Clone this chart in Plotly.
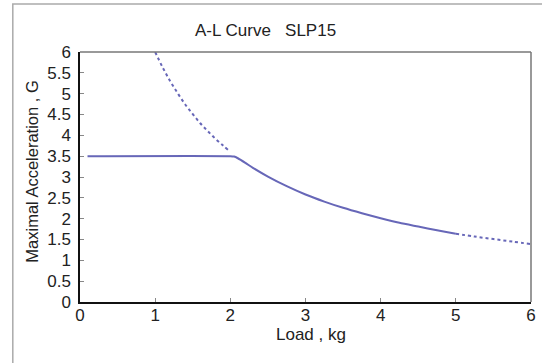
import plotly.graph_objects as go

# Data
flat_load = [0.1, 2.0, 2.05]
flat_acc = [3.5, 3.5, 3.49]

solid_load = [2.05, 2.1, 2.2, 2.3, 2.5, 2.75, 3.0, 3.25, 3.5, 3.75, 4.0, 4.25, 4.5, 4.75, 5.0]
solid_acc = [3.49, 3.45, 3.34, 3.22, 3.01, 2.78, 2.58, 2.41, 2.26, 2.13, 2.01, 1.90, 1.81, 1.72, 1.64]

dash1_load = [1.0, 1.1, 1.2, 1.3, 1.4, 1.5, 1.6, 1.7, 1.8, 1.9, 1.97]
dash1_acc = [6.0, 5.63, 5.30, 5.01, 4.74, 4.51, 4.29, 4.10, 3.92, 3.76, 3.65]

dash2_load = [5.0, 5.25, 5.5, 5.75, 6.0]
dash2_acc = [1.64, 1.57, 1.51, 1.45, 1.39]

x_ticks = [0, 1, 2, 3, 4, 5, 6]
y_ticks = [0, 0.5, 1, 1.5, 2, 2.5, 3, 3.5, 4, 4.5, 5, 5.5, 6]
y_tick_text = ["0", "0.5", "1", "1.5", "2", "2.5", "3", "3.5", "4", "4.5", "5", "5.5", "6"]

LINE = "#6767b8"
FONT = "Liberation Sans, Arial, sans-serif"

fig = go.Figure()
fig.add_trace(go.Scatter(x=flat_load + solid_load[1:], y=flat_acc + solid_acc[1:], mode="lines",
                         line=dict(color=LINE, width=2, shape="spline", smoothing=0.6), showlegend=False))
fig.add_trace(go.Scatter(x=dash1_load, y=dash1_acc, mode="lines",
                         line=dict(color=LINE, width=2, dash="dot", shape="spline"), showlegend=False))
fig.add_trace(go.Scatter(x=dash2_load, y=dash2_acc, mode="lines",
                         line=dict(color=LINE, width=2, dash="dot", shape="spline"), showlegend=False))

fig.update_layout(
    width=542, height=363,
    margin=dict(l=80, r=6, t=52, b=61),
    paper_bgcolor="white", plot_bgcolor="white",
    font=dict(family=FONT, size=17, color="#222"),
    xaxis=dict(range=[0, 6], tickvals=x_ticks, ticks="inside", ticklen=4, tickcolor="#888",
               showline=True, linecolor="#111", linewidth=1.5, showgrid=False, zeroline=False,
               tickfont=dict(size=17), ticklabelstandoff=-3),
    yaxis=dict(range=[0, 6], tickvals=y_ticks, ticktext=y_tick_text, ticks="inside", ticklen=4,
               tickcolor="#888", showline=True, linecolor="#111", linewidth=1.5, showgrid=False,
               zeroline=False, tickfont=dict(size=17), ticklabelstandoff=4),
    shapes=[
        dict(type="line", xref="paper", yref="paper", x0=0, x1=1, y0=1, y1=1,
             line=dict(color="#777", width=1.5)),
        dict(type="line", xref="paper", yref="paper", x0=1, x1=1, y0=0, y1=1,
             line=dict(color="#777", width=1.5)),
        dict(type="rect", xref="paper", yref="paper", x0=-0.149, x1=1.2, y0=-0.5, y1=1.192,
             line=dict(color="#aaa", width=1.5), fillcolor="rgba(0,0,0,0)", layer="below"),
    ],
    annotations=[
        dict(text="A-L Curve   SLP15", xref="paper", yref="paper", x=(268 - 80) / 456,
             y=1 + (52 - 31) / 249.7, showarrow=False, xanchor="center", yanchor="middle",
             font=dict(size=17)),
        dict(text="Load , kg", xref="paper", yref="paper", x=(314 - 80) / 456,
             y=-(334 - 301.7) / 249.7, showarrow=False, xanchor="center", yanchor="middle",
             font=dict(size=17)),
        dict(text="Maximal Acceleration , G", xref="paper", yref="paper", x=(32 - 80) / 456,
             y=(301.7 - 172) / 249.7, showarrow=False, xanchor="center", yanchor="middle",
             textangle=-90, font=dict(size=16.5)),
    ],
)

fig.write_html("out.html")
